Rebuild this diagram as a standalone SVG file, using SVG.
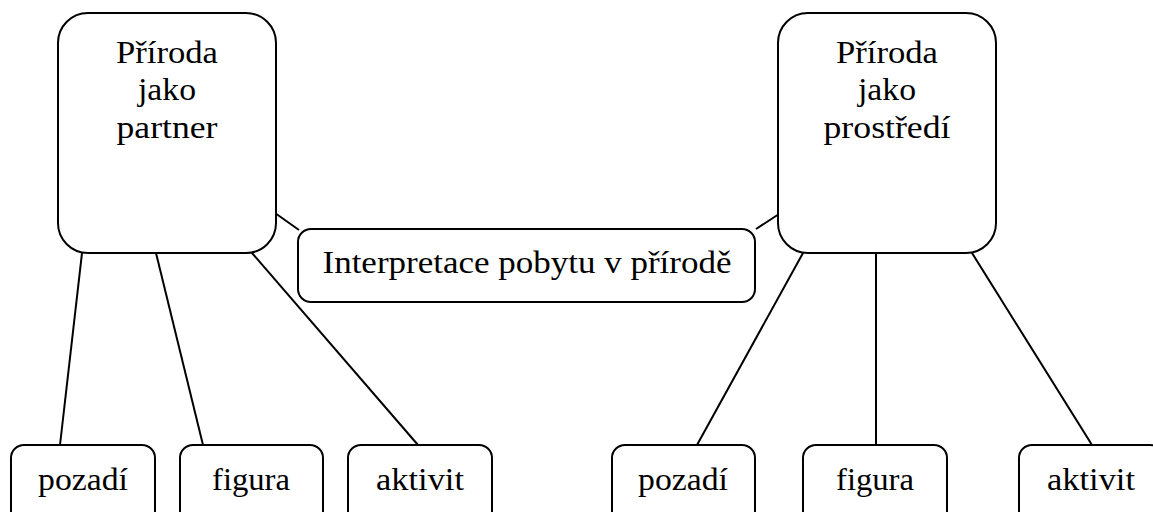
<svg xmlns="http://www.w3.org/2000/svg" width="1153" height="512" viewBox="0 0 1153 512">
<style>
.box{fill:#fff;stroke:#000;stroke-width:2}
.con line{stroke:#000;stroke-width:2}
text{font-family:"Liberation Serif","DejaVu Serif",serif;font-size:32px;fill:#000;text-anchor:middle}
</style>
<rect width="1153" height="512" fill="#fff"/>
<g id="connectors" class="con">
<line x1="82" y1="253" x2="60" y2="445"/>
<line x1="156" y1="253" x2="203" y2="445"/>
<line x1="252" y1="253" x2="418" y2="445"/>
<line x1="275" y1="213" x2="299" y2="230"/>
<line x1="756" y1="229" x2="779" y2="214"/>
<line x1="803" y1="253" x2="697" y2="445"/>
<line x1="876" y1="253" x2="876" y2="445"/>
<line x1="972" y1="253" x2="1092" y2="445"/>
</g>
<g id="n-partner"><rect class="box" x="58" y="13" width="218" height="240" rx="30"/>
<text x="167" y="63" textLength="102" lengthAdjust="spacingAndGlyphs">Příroda</text><text x="167" y="100" textLength="58" lengthAdjust="spacingAndGlyphs">jako</text><text x="167" y="138" textLength="101" lengthAdjust="spacingAndGlyphs">partner</text></g>
<g id="n-prostredi"><rect class="box" x="778" y="13" width="218" height="240" rx="30"/>
<text x="887" y="63" textLength="102" lengthAdjust="spacingAndGlyphs">Příroda</text><text x="887" y="100" textLength="58" lengthAdjust="spacingAndGlyphs">jako</text><text x="887" y="138" textLength="127" lengthAdjust="spacingAndGlyphs">prostředí</text></g>
<g id="n-interpretace"><rect class="box" x="298" y="229" width="457" height="73" rx="13"/>
<text x="527" y="273" textLength="409" lengthAdjust="spacingAndGlyphs">Interpretace pobytu v přírodě</text></g>
<g id="n-pozadi1"><rect class="box" x="11" y="445" width="144" height="80" rx="13"/><text x="83" y="490" textLength="90" lengthAdjust="spacingAndGlyphs">pozadí</text></g>
<g id="n-figura1"><rect class="box" x="180" y="445" width="143" height="80" rx="13"/><text x="251" y="490" textLength="78" lengthAdjust="spacingAndGlyphs">figura</text></g>
<g id="n-aktivit1"><rect class="box" x="348" y="445" width="144" height="80" rx="13"/><text x="420" y="490" textLength="88" lengthAdjust="spacingAndGlyphs">aktivit</text></g>
<g id="n-pozadi2"><rect class="box" x="612" y="445" width="143" height="80" rx="13"/><text x="683" y="490" textLength="90" lengthAdjust="spacingAndGlyphs">pozadí</text></g>
<g id="n-figura2"><rect class="box" x="803" y="445" width="144" height="80" rx="13"/><text x="875" y="490" textLength="78" lengthAdjust="spacingAndGlyphs">figura</text></g>
<g id="n-aktivit2"><rect class="box" x="1019" y="445" width="144" height="80" rx="13"/><text x="1091" y="490" textLength="88" lengthAdjust="spacingAndGlyphs">aktivit</text></g>
</svg>
